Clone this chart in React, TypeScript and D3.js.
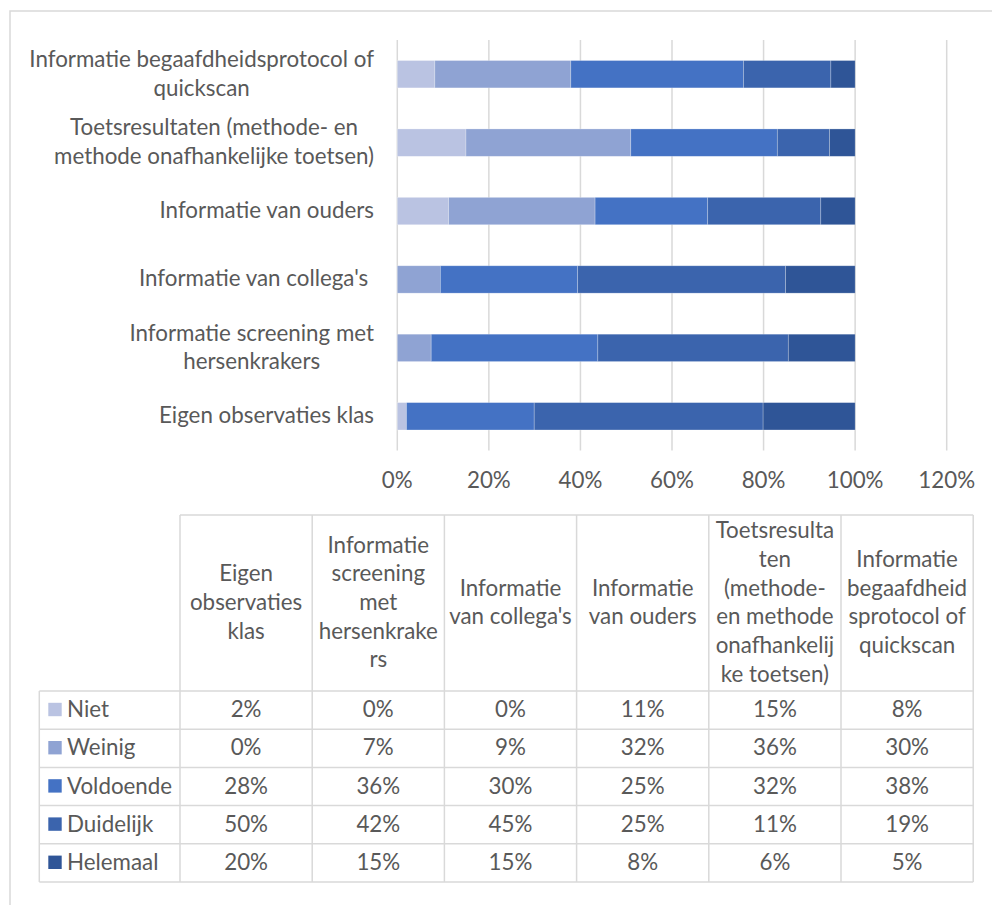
import React, { useEffect, useRef } from "react";
import * as d3 from "d3";

const series = ["Niet", "Weinig", "Voldoende", "Duidelijk", "Helemaal"];
const seriesColors = ["#BAC3E2", "#8FA3D3", "#4472C4", "#3B64AD", "#2F5597"];

const categories = [
  "Eigen observaties klas",
  "Informatie screening met hersenkrakers",
  "Informatie van collega's",
  "Informatie van ouders",
  "Toetsresultaten (methode- en methode onafhankelijke toetsen)",
  "Informatie begaafdheidsprotocol of quickscan",
];

const axisLabelLines = [
  ["Eigen observaties klas"],
  ["Informatie screening met", "hersenkrakers"],
  ["Informatie van collega's "],
  ["Informatie van ouders"],
  ["Toetsresultaten (methode- en", "methode onafhankelijke toetsen)"],
  ["Informatie begaafdheidsprotocol of", "quickscan"],
];

const headerLines = [
  ["Eigen", "observaties", "klas"],
  ["Informatie", "screening", "met", "hersenkrake", "rs"],
  ["Informatie", "van collega's"],
  ["Informatie", "van ouders"],
  ["Toetsresulta", "ten", "(methode-", "en methode", "onafhankelij", "ke toetsen)"],
  ["Informatie", "begaafdheid", "sprotocol of", "quickscan"],
];

const niet = [0.02, 0, 0, 0.112, 0.15, 0.082];
const weinig = [0, 0.074, 0.094, 0.32, 0.36, 0.297];
const voldoende = [0.279, 0.364, 0.3, 0.246, 0.32, 0.377];
const duidelijk = [0.5, 0.416, 0.454, 0.247, 0.114, 0.191];
const helemaal = [0.201, 0.146, 0.152, 0.075, 0.056, 0.053];

const xTicks = [0, 0.2, 0.4, 0.6, 0.8, 1.0, 1.2];

const FONT = "Lato, 'Open Sans', sans-serif";
const TEXT = "#595959";
const GRID = "#d9d9d9";

export default function App() {
  const ref = useRef<SVGSVGElement | null>(null);

  useEffect(() => {
    const svg = d3.select(ref.current);
    svg.selectAll("*").remove();

    // calibrate font size so that "Informatie" is ~101.6px wide
    const canvas = document.createElement("canvas");
    const ctx = canvas.getContext("2d")!;
    ctx.font = "100px Lato";
    const w100 = ctx.measureText("Informatie").width || 430;
    const fs = (100 * 101.6) / w100;
    const lh = 28.7;
    const base = 7;

    const values = [niet, weinig, voldoende, duidelijk, helemaal];

    // outer frame
    svg
      .append("rect")
      .attr("x", 10)
      .attr("y", 11)
      .attr("width", 1000)
      .attr("height", 1000)
      .attr("fill", "#fff")
      .attr("stroke", GRID)
      .attr("stroke-width", 1.5);

    const x = d3.scaleLinear().domain([0, 1.2]).range([397.3, 946.7]);
    const y = d3
      .scaleBand<string>()
      .domain(categories.slice().reverse())
      .range([40, 450.5])
      .paddingInner(0.6)
      .paddingOuter(0.3);

    // gridlines
    svg
      .append("g")
      .selectAll("line")
      .data(xTicks)
      .join("line")
      .attr("x1", (d) => x(d))
      .attr("x2", (d) => x(d))
      .attr("y1", 40)
      .attr("y2", 450.5)
      .attr("stroke", GRID)
      .attr("stroke-width", 1.5);

    // bars
    const stackData = categories.map((c, i) => {
      const o: any = { cat: c };
      series.forEach((s, k) => (o[s] = values[k][i]));
      return o;
    });
    const stacked = d3.stack().keys(series)(stackData);
    svg
      .append("g")
      .selectAll("g")
      .data(stacked)
      .join("g")
      .attr("fill", (_d, k) => seriesColors[k])
      .selectAll("rect")
      .data((d) => d)
      .join("rect")
      .attr("x", (d) => x(d[0]))
      .attr("width", (d) => Math.max(0, x(d[1]) - x(d[0])))
      .attr("y", (d: any) => y(d.data.cat)!)
      .attr("height", y.bandwidth())
      .attr("stroke", "rgba(255,255,255,0.35)")
      .attr("stroke-width", (d) => (d[1] - d[0] > 0 ? 0.7 : 0));

    // x tick labels
    svg
      .append("g")
      .selectAll("text")
      .data(xTicks)
      .join("text")
      .attr("x", (d) => x(d))
      .attr("y", 488)
      .attr("text-anchor", "middle")
      .attr("font-family", FONT)
      .attr("font-size", fs)
      .attr("fill", TEXT)
      .text((d) => d3.format(".0%")(d));

    // y category labels: block right aligned at 374, lines centered
    const labelRight = 374;
    categories.forEach((c, i) => {
      const lines = axisLabelLines[i];
      const cy = y(c)! + y.bandwidth() / 2;
      const g = svg.append("g");
      const texts = g
        .selectAll("text")
        .data(lines)
        .join("text")
        .attr("y", (_d, j) => cy + (j - (lines.length - 1) / 2) * lh + base)
        .attr("text-anchor", "middle")
        .attr("font-family", FONT)
        .attr("font-size", fs)
        .attr("fill", TEXT)
        .attr("xml:space", "preserve")
        .style("white-space", "pre")
        .text((d) => d);
      let maxW = 0;
      texts.each(function () {
        maxW = Math.max(maxW, (this as SVGTextElement).getComputedTextLength());
      });
      texts.attr("x", labelRight - maxW / 2);
    });

    // data table
    const tableTop = 515;
    const headerBottom = 691;
    const rowH = 38.2;
    const legendLeft = 39.3;
    const colLeft = 180;
    const colW = 132.2;
    const nCols = categories.length;
    const tableRight = colLeft + colW * nCols;
    const tableBottom = headerBottom + rowH * series.length;

    const tg = svg.append("g");
    // horizontal lines
    const hLines = [{ y: tableTop, x1: colLeft }].concat(
      d3.range(series.length + 1).map((r) => ({ y: headerBottom + r * rowH, x1: legendLeft }))
    );
    tg.selectAll("line.h")
      .data(hLines)
      .join("line")
      .attr("class", "h")
      .attr("x1", (d) => d.x1)
      .attr("x2", tableRight)
      .attr("y1", (d) => d.y)
      .attr("y2", (d) => d.y)
      .attr("stroke", GRID)
      .attr("stroke-width", 1.5);
    // vertical lines
    const vLines = [{ x: legendLeft, y1: headerBottom }].concat(
      d3.range(nCols + 1).map((c) => ({ x: colLeft + c * colW, y1: tableTop }))
    );
    tg.selectAll("line.v")
      .data(vLines)
      .join("line")
      .attr("class", "v")
      .attr("x1", (d) => d.x)
      .attr("x2", (d) => d.x)
      .attr("y1", (d) => d.y1)
      .attr("y2", tableBottom)
      .attr("stroke", GRID)
      .attr("stroke-width", 1.5);

    // header texts
    const headerMid = (tableTop + headerBottom) / 2;
    headerLines.forEach((lines, c) => {
      tg.append("g")
        .selectAll("text")
        .data(lines)
        .join("text")
        .attr("x", colLeft + colW * (c + 0.5))
        .attr("y", (_d, j) => headerMid + (j - (lines.length - 1) / 2) * lh + base)
        .attr("text-anchor", "middle")
        .attr("font-family", FONT)
        .attr("font-size", fs)
        .attr("fill", TEXT)
        .text((d) => d);
    });

    // rows
    series.forEach((s, r) => {
      const cy = headerBottom + rowH * (r + 0.5);
      tg.append("rect")
        .attr("x", 48.3)
        .attr("y", cy - 7.3)
        .attr("width", 13.4)
        .attr("height", 13.4)
        .attr("fill", seriesColors[r]);
      tg.append("text")
        .attr("x", 67)
        .attr("y", cy + base)
        .attr("font-family", FONT)
        .attr("font-size", fs)
        .attr("fill", TEXT)
        .text(s);
      tg.append("g")
        .selectAll("text")
        .data(values[r])
        .join("text")
        .attr("x", (_d, c) => colLeft + colW * (c + 0.5))
        .attr("y", cy + base)
        .attr("text-anchor", "middle")
        .attr("font-family", FONT)
        .attr("font-size", fs)
        .attr("fill", TEXT)
        .text((d) => Math.round(d * 100) + "%");
    });
  }, []);

  return (
    <div style={{ position: "absolute", left: 0, top: 0 }}>
      <svg ref={ref} width={992} height={905} style={{ display: "block", background: "#fff" }} />
    </div>
  );
}
